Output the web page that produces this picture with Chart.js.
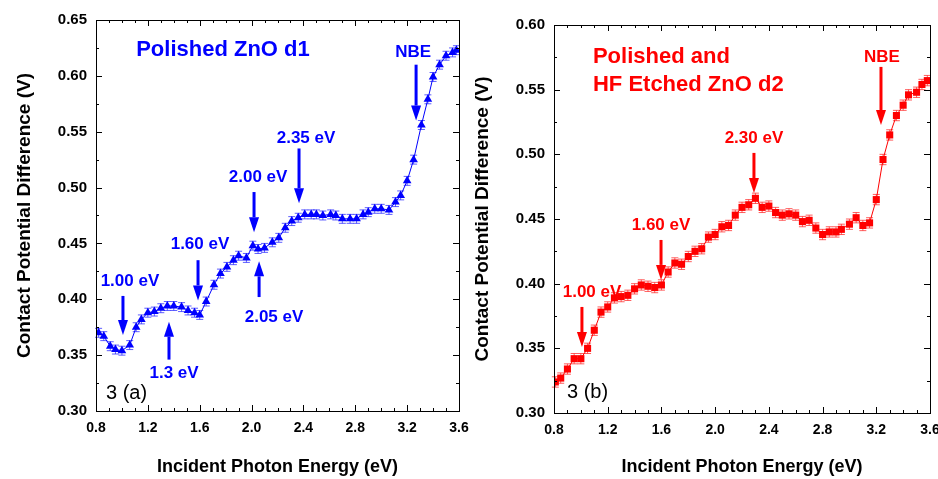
<!DOCTYPE html>
<html>
<head>
<meta charset="utf-8">
<script src="https://cdn.jsdelivr.net/npm/chart.js@4.4.1/dist/chart.umd.min.js"></script>
<style>
  html, body { margin: 0; padding: 0; background: #fff; }
  .panel { position: absolute; top: 0; height: 479px; }
  #pa { left: 0; width: 470px; }
  #pb { left: 470px; width: 468px; }
</style>
</head>
<body>
<div class="panel" id="pa"><canvas id="chartA"></canvas></div>
<div class="panel" id="pb"><canvas id="chartB"></canvas></div>
<script>
// photon energy (eV) and contact potential difference (V), panel (a)
const energyA = [0.82, 0.86, 0.91, 0.95, 1.00, 1.06, 1.11, 1.15, 1.20, 1.25,
  1.30, 1.35, 1.40, 1.46, 1.51, 1.56, 1.60, 1.65, 1.71, 1.76,
  1.81, 1.86, 1.90, 1.96, 2.01, 2.05, 2.10, 2.16, 2.21, 2.26,
  2.31, 2.36, 2.41, 2.46, 2.50, 2.55, 2.61, 2.65, 2.70, 2.76,
  2.81, 2.86, 2.90, 2.95, 3.00, 3.06, 3.11, 3.15, 3.20, 3.25,
  3.31, 3.36, 3.40, 3.45, 3.50, 3.55, 3.58];
const cpdA = [0.370, 0.367, 0.358, 0.355, 0.354, 0.359, 0.375, 0.382, 0.388, 0.389,
  0.392, 0.394, 0.394, 0.393, 0.390, 0.388, 0.386, 0.398, 0.413, 0.423,
  0.429, 0.435, 0.439, 0.437, 0.448, 0.445, 0.446, 0.451, 0.455, 0.464,
  0.470, 0.473, 0.476, 0.476, 0.476, 0.475, 0.476, 0.475, 0.472, 0.472,
  0.472, 0.476, 0.478, 0.481, 0.481, 0.480, 0.487, 0.493, 0.506, 0.525,
  0.556, 0.579, 0.599, 0.610, 0.618, 0.621, 0.623];

// panel (b)
const energyB = [0.81, 0.85, 0.90, 0.95, 1.00, 1.05, 1.10, 1.15, 1.20, 1.25,
  1.30, 1.35, 1.40, 1.45, 1.50, 1.55, 1.60, 1.65, 1.70, 1.75,
  1.80, 1.85, 1.90, 1.95, 2.00, 2.05, 2.10, 2.15, 2.20, 2.25,
  2.30, 2.35, 2.40, 2.45, 2.50, 2.55, 2.60, 2.65, 2.70, 2.75,
  2.80, 2.85, 2.90, 2.94, 3.00, 3.05, 3.10, 3.15, 3.20, 3.25,
  3.30, 3.35, 3.40, 3.44, 3.50, 3.54, 3.58];
const cpdB = [0.324, 0.327, 0.334, 0.342, 0.342, 0.350, 0.364, 0.378, 0.382, 0.389,
  0.390, 0.391, 0.396, 0.399, 0.398, 0.397, 0.399, 0.409, 0.416, 0.415,
  0.421, 0.425, 0.427, 0.436, 0.438, 0.444, 0.445, 0.453, 0.459, 0.461,
  0.466, 0.459, 0.460, 0.455, 0.453, 0.454, 0.453, 0.448, 0.449, 0.443,
  0.438, 0.440, 0.440, 0.442, 0.446, 0.451, 0.445, 0.447, 0.465, 0.496,
  0.515, 0.530, 0.538, 0.546, 0.548, 0.554, 0.557];

// approx. error bar half-height (V)
const errA = 0.004;
const errB = 0.004;

const xTicks = [0.8, 1.2, 1.6, 2.0, 2.4, 2.8, 3.2, 3.6];
const yTicksA = [0.30, 0.35, 0.40, 0.45, 0.50, 0.55, 0.60, 0.65];
const yTicksB = [0.30, 0.35, 0.40, 0.45, 0.50, 0.55, 0.60];

// annotations, in data units
const notesA = [
  { t: 'text', x: 1.11, y: 0.623, s: 'Polished ZnO d1', size: 22, align: 'left' },
  { t: 'text', x: 3.246, y: 0.621, s: 'NBE', size: 17 },
  { t: 'arrow', x: 3.269, y0: 0.610, y1: 0.560 },
  { t: 'text', x: 2.42, y: 0.544, s: '2.35 eV', size: 17 },
  { t: 'arrow', x: 2.366, y0: 0.535, y1: 0.486 },
  { t: 'text', x: 2.05, y: 0.509, s: '2.00 eV', size: 17 },
  { t: 'arrow', x: 2.019, y0: 0.496, y1: 0.460 },
  { t: 'text', x: 1.602, y: 0.449, s: '1.60 eV', size: 17 },
  { t: 'arrow', x: 1.587, y0: 0.435, y1: 0.399 },
  { t: 'text', x: 1.062, y: 0.416, s: '1.00 eV', size: 17 },
  { t: 'arrow', x: 1.008, y0: 0.403, y1: 0.368 },
  { t: 'text', x: 2.173, y: 0.384, s: '2.05 eV', size: 17 },
  { t: 'arrow', x: 2.058, y0: 0.402, y1: 0.434 },
  { t: 'text', x: 1.402, y: 0.334, s: '1.3 eV', size: 17 },
  { t: 'arrow', x: 1.363, y0: 0.346, y1: 0.380 },
  { t: 'text', x: 0.877, y: 0.316, s: '3 (a)', size: 20, align: 'left', plain: true }
];
const notesB = [
  { t: 'text', x: 1.09, y: 0.5753, s: 'Polished and', size: 22, align: 'left' },
  { t: 'text', x: 1.09, y: 0.5537, s: 'HF Etched ZnO d2', size: 22, align: 'left' },
  { t: 'text', x: 3.242, y: 0.5753, s: 'NBE', size: 17 },
  { t: 'arrow', x: 3.235, y0: 0.5676, y1: 0.5227 },
  { t: 'text', x: 2.289, y: 0.5127, s: '2.30 eV', size: 17 },
  { t: 'arrow', x: 2.289, y0: 0.5011, y1: 0.4701 },
  { t: 'text', x: 1.597, y: 0.4454, s: '1.60 eV', size: 17 },
  { t: 'arrow', x: 1.597, y0: 0.4338, y1: 0.4029 },
  { t: 'text', x: 1.083, y: 0.3936, s: '1.00 eV', size: 17 },
  { t: 'arrow', x: 1.008, y0: 0.382, y1: 0.351 },
  { t: 'text', x: 0.897, y: 0.3155, s: '3 (b)', size: 20, align: 'left', plain: true }
];

const FONT = "'Liberation Sans', Arial, sans-serif";

// error bars, frame, inward ticks and annotations
const decor = {
  id: 'decor',
  beforeDatasetsDraw(chart, args, opts) {
    const { ctx } = chart;
    const xs = chart.scales.x, ys = chart.scales.y;
    const ds = chart.data.datasets[0];
    ctx.save();
    ctx.strokeStyle = opts.errColor;
    ctx.lineWidth = 1;
    ds.data.forEach(p => {
      const px = xs.getPixelForValue(p.x);
      const top = ys.getPixelForValue(p.y + opts.err);
      const bot = ys.getPixelForValue(p.y - opts.err);
      ctx.beginPath();
      ctx.moveTo(px, top); ctx.lineTo(px, bot);
      ctx.moveTo(px - 3.5, top); ctx.lineTo(px + 3.5, top);
      ctx.moveTo(px - 3.5, bot); ctx.lineTo(px + 3.5, bot);
      ctx.stroke();
    });
    ctx.restore();
  },
  afterDraw(chart, args, opts) {
    const { ctx, chartArea: a } = chart;
    const xs = chart.scales.x, ys = chart.scales.y;
    ctx.save();
    ctx.strokeStyle = '#000';
    ctx.lineWidth = 1;
    ctx.strokeRect(Math.round(a.left) + 0.5, Math.round(a.top) + 0.5,
      Math.round(a.right - a.left), Math.round(a.bottom - a.top));
    ctx.beginPath();
    for (let v = xs.min; v <= xs.max + 1e-6; v += 0.1) {
      const major = Math.abs(v / 0.4 - Math.round(v / 0.4)) < 1e-6;
      const len = major ? 6 : 3;
      const px = Math.round(xs.getPixelForValue(v)) + 0.5;
      ctx.moveTo(px, a.bottom); ctx.lineTo(px, a.bottom - len);
      ctx.moveTo(px, a.top); ctx.lineTo(px, a.top + len);
    }
    for (let v = ys.min; v <= ys.max + 1e-6; v += 0.025) {
      const major = Math.abs(v / 0.05 - Math.round(v / 0.05)) < 1e-6;
      const len = major ? 6 : 3;
      const py = Math.round(ys.getPixelForValue(v)) + 0.5;
      ctx.moveTo(a.left, py); ctx.lineTo(a.left + len, py);
      ctx.moveTo(a.right, py); ctx.lineTo(a.right - len, py);
    }
    ctx.stroke();

    opts.notes.forEach(n => {
      const px = xs.getPixelForValue(n.x);
      if (n.t === 'text') {
        ctx.font = (n.plain ? '' : 'bold ') + n.size + 'px ' + FONT;
        ctx.fillStyle = n.plain ? '#000' : opts.color;
        ctx.textAlign = n.align || 'center';
        ctx.textBaseline = 'middle';
        ctx.fillText(n.s, px, ys.getPixelForValue(n.y));
      } else {
        const y0 = ys.getPixelForValue(n.y0), y1 = ys.getPixelForValue(n.y1);
        const dir = y1 > y0 ? 1 : -1;
        const head = 15;
        ctx.strokeStyle = opts.color;
        ctx.fillStyle = opts.color;
        ctx.lineWidth = 3;
        ctx.beginPath();
        ctx.moveTo(px, y0); ctx.lineTo(px, y1 - dir * head);
        ctx.stroke();
        ctx.beginPath();
        ctx.moveTo(px, y1);
        ctx.lineTo(px - 5, y1 - dir * head);
        ctx.lineTo(px + 5, y1 - dir * head);
        ctx.closePath();
        ctx.fill();
      }
    });
    ctx.restore();
  }
};

function makeChart(id, cfg) {
  const pts = cfg.energy.map((e, i) => ({ x: e, y: cfg.cpd[i] }));
  return new Chart(document.getElementById(id), {
    type: 'scatter',
    data: {
      datasets: [{
        data: pts,
        showLine: true,
        borderColor: cfg.color,
        backgroundColor: cfg.color,
        borderWidth: 1,
        pointStyle: cfg.marker,
        pointRadius: cfg.radius,
        pointBorderWidth: 0
      }]
    },
    options: {
      responsive: true,
      maintainAspectRatio: false,
      animation: false,
      layout: { padding: cfg.pad },
      plugins: {
        legend: { display: false },
        tooltip: { enabled: false },
        decor: { notes: cfg.notes, color: cfg.color, errColor: cfg.errColor, err: cfg.err }
      },
      scales: {
        x: {
          type: 'linear',
          min: 0.8, max: 3.6,
          afterBuildTicks: s => { s.ticks = xTicks.map(v => ({ value: v })); },
          ticks: {
            padding: 9,
            color: '#000',
            font: { family: FONT, size: 14, weight: 'bold' },
            callback: v => v.toFixed(1)
          },
          grid: { display: false, drawTicks: false },
          border: { display: false },
          title: {
            display: true,
            text: 'Incident Photon Energy (eV)',
            color: '#000',
            font: { family: FONT, size: 18, weight: 'bold' },
            padding: { top: 0, bottom: 1 }
          },
          afterFit: s => { s.height = cfg.xH; s.paddingLeft = 0; s.paddingRight = 0; }
        },
        y: {
          type: 'linear',
          min: cfg.yTicks[0], max: cfg.yTicks[cfg.yTicks.length - 1],
          afterBuildTicks: s => { s.ticks = cfg.yTicks.map(v => ({ value: v })); },
          ticks: {
            padding: 9,
            color: '#000',
            font: { family: FONT, size: 15, weight: 'bold' },
            callback: v => v.toFixed(2)
          },
          grid: { display: false, drawTicks: false },
          border: { display: false },
          title: {
            display: true,
            text: 'Contact Potential Difference (V)',
            color: '#000',
            font: { family: FONT, size: 19, weight: 'bold' },
            padding: { top: cfg.yTitlePad, bottom: 0 }
          },
          afterFit: s => { s.width = cfg.yW; s.paddingTop = 0; s.paddingBottom = 0; }
        }
      }
    },
    plugins: [decor]
  });
}

makeChart('chartA', {
  energy: energyA, cpd: cpdA, notes: notesA, yTicks: yTicksA,
  color: '#0000ff', errColor: 'rgba(40,40,255,0.75)', err: errA,
  marker: 'triangle', radius: 5,
  pad: { top: 20, right: 11, bottom: 0, left: 0 },
  xH: 68, yW: 96, yTitlePad: 13.6
});
makeChart('chartB', {
  energy: energyB, cpd: cpdB, notes: notesB, yTicks: yTicksB,
  color: '#ff0000', errColor: 'rgba(255,40,40,0.75)', err: errB,
  marker: 'rect', radius: 5,
  pad: { top: 25, right: 8, bottom: 0, left: 0 },
  xH: 66, yW: 84, yTitlePad: 1.6
});
</script>
</body>
</html>
